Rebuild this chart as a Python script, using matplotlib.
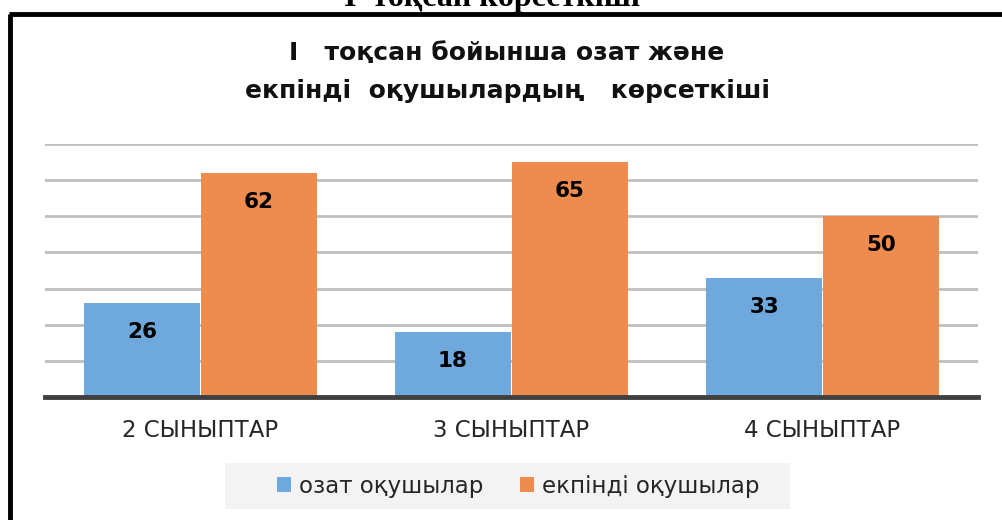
import matplotlib
matplotlib.use("Agg")
import matplotlib.pyplot as plt
import numpy as np
from matplotlib.lines import Line2D
from matplotlib.patches import Patch, Rectangle

categories = ["2 СЫНЫПТАР", "3 СЫНЫПТАР", "4 СЫНЫПТАР"]
series_names = ["озат оқушылар", "екпінді оқушылар"]
ozat = [26, 18, 33]
ekpindi = [62, 65, 50]
title = "I   тоқсан бойынша озат және\nекпінді  оқушылардың   көрсеткіші"
top_caption = "I  тоқсан көрсеткіші"

BLUE = "#6FA8DC"
ORANGE = "#EE8C4F"
FONT = "DejaVu Sans"

W, H = 1002, 520
fig = plt.figure(figsize=(W / 100, H / 100), dpi=100)
fig.patch.set_facecolor("white")

# axes placement
left, right, top, bottom = 45, 978, 144, 397
ax = fig.add_axes([left / W, 1 - bottom / H, (right - left) / W, (bottom - top) / H])

x = np.arange(len(categories))
bw = 0.37
off = 0.188
b1 = ax.bar(x - off, ozat, width=bw, color=BLUE, zorder=3)
b2 = ax.bar(x + off, ekpindi, width=bw, color=ORANGE, zorder=3)

for bars, vals in ((b1, ozat), (b2, ekpindi)):
    for r, v in zip(bars, vals):
        ax.annotate(str(v), (r.get_x() + r.get_width() / 2, v), xytext=(0, -21),
                    textcoords="offset points", ha="center", va="center",
                    fontsize=15.5, fontweight="bold", family=FONT, color="black", zorder=4)

ax.set_xlim(-0.5, 2.5)
ax.set_ylim(0, 70)
ax.set_yticks(np.arange(10, 71, 10))
ax.yaxis.grid(True, color="#BFBFBF", linewidth=2, zorder=1)
ax.tick_params(axis="y", left=False, labelleft=False)
ax.set_xticks(x)
ax.set_xticklabels(categories, fontsize=16.5, family=FONT, color="#262626")
ax.tick_params(axis="x", length=0, pad=16)
for s in ("left", "right", "top"):
    ax.spines[s].set_visible(False)
ax.spines["bottom"].set_color("#404040")
ax.spines["bottom"].set_linewidth(3.5)
ax.spines["bottom"].set_zorder(5)

# title
fig.text(507 / W, 1 - 72 / H, title, ha="center", va="center", fontsize=18,
         fontweight="bold", family=FONT, linespacing=1.75, color="#111111")

# clipped caption at very top (cut off in the reference as well)
fig.text(492 / W, 1 - 6 / H, top_caption, ha="center", va="baseline", fontsize=23,
         fontweight="bold", family="Liberation Serif", color="black")

# legend background
fig.add_artist(Rectangle((225 / W, 1 - 509 / H), (790 - 225) / W, (509 - 463) / H,
                         transform=fig.transFigure, facecolor="#F3F3F3", edgecolor="none",
                         zorder=0))
handles = [Patch(facecolor=BLUE), Patch(facecolor=ORANGE)]
leg = fig.legend(handles, series_names, loc="center", bbox_to_anchor=(518 / W, 1 - 486 / H),
                 ncol=2, frameon=False, prop={"family": FONT, "size": 16.5},
                 handlelength=0.6, handleheight=0.6, handletextpad=0.35, columnspacing=1.6,
                 borderpad=0)
for t in leg.get_texts():
    t.set_color("#262626")

# outer frame (top and left edges)
fig.add_artist(Line2D([9 / W, 1.0], [1 - 14 / H, 1 - 14 / H], color="black", linewidth=3.5,
                      solid_capstyle="butt", transform=fig.transFigure))
fig.add_artist(Line2D([10 / W, 10 / W], [0, 1 - 14 / H], color="black", linewidth=3.5,
                      solid_capstyle="butt", transform=fig.transFigure))

fig.savefig("out.png", dpi=100)
